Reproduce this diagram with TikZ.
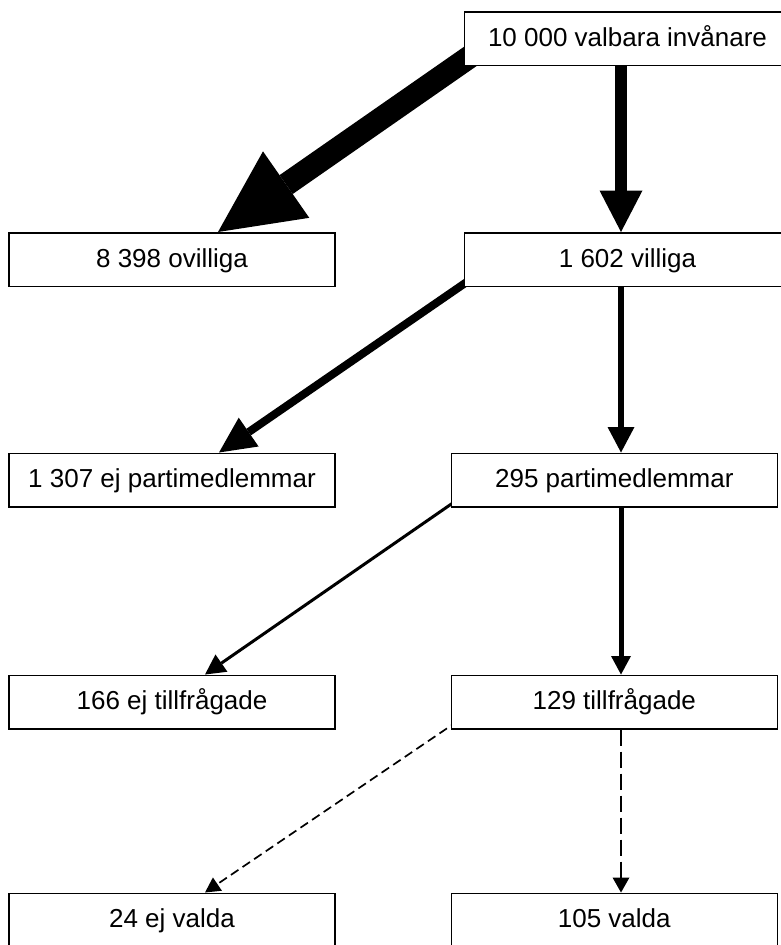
\documentclass[tikz,border=0pt]{standalone}
\usepackage{fontspec}
\setmainfont{Liberation Sans}
\usetikzlibrary{arrows.meta,calc,backgrounds,positioning}

\tikzset{
	caja/.style={draw,line width=1.5pt,fill=white,minimum width=326pt,minimum height=53.5pt,inner sep=0pt,text height=20.8pt,text depth=5.7pt,font=\fontsize{26}{31}\selectfont},
	flujo/.style n args={3}{line width=#1,-{Triangle[length=#2,width=#3,line width=0pt]}}
}

\begin{document}
\begin{tikzpicture}[x=1pt,y=-1pt]
			\useasboundingbox (0,0) rectangle (781,945);
			\clip (0,0) rectangle (781,945);

			% Cajas
			\node[caja] (top) at (627.5,38.5) {10 000 valbara invånare};
			\node[caja] (ovilliga) at (172,259.5) {8 398 ovilliga};
			\node[caja] (villiga) at (627.5,259.5) {1 602 villiga};
			\node[caja] (ejpm) at (172,480) {1 307 ej partimedlemmar};
			\node[caja] (pm) at (614.3,480) {295 partimedlemmar};
			\node[caja] (ejtf) at (172,702) {166 ej tillfrågade};
			\node[caja] (tf) at (614.3,702) {129 tillfrågade};
			\node[caja] (ejvalda) at (172,920) {24 ej valda};
			\node[caja] (valda) at (614.3,920) {105 valda};

			\coordinate (spine) at (621,0);

			% Flechas
			\begin{scope}[on background layer]
				\draw[flujo={23pt}{83pt}{81pt}] ($(top.south west)+(33,-28)$) -- ($(ovilliga.north)+(46,0)$);
				\draw[flujo={11.5pt}{41.5pt}{43pt}] (top.south -| spine) -- (villiga.north -| spine);

				\draw[flujo={8pt}{36pt}{35pt}] ($(villiga.south west)+(16,-14)$) -- ($(ejpm.north)+(47,0)$);
				\draw[flujo={5.3pt}{25.5pt}{27pt}] (villiga.south -| spine) -- (pm.north -| spine);

				\draw[flujo={3pt}{20pt}{21pt}] ($(pm.south west)+(8,-8.5)$) -- ($(ejtf.north)+(33,0)$);
				\draw[flujo={5pt}{18.5pt}{20pt}] (pm.south -| spine) -- (tf.north -| spine);

				\draw[flujo={1.7pt}{15pt}{16pt},dash pattern=on 9pt off 5pt] ($(tf.south west)+(8,-9)$) -- ($(ejvalda.north)+(33,0)$);
				\draw[flujo={2.3pt}{15pt}{17pt},dash pattern=on 16pt off 6pt] (tf.south -| spine) -- (valda.north -| spine);
			\end{scope}
\end{tikzpicture}
\end{document}
